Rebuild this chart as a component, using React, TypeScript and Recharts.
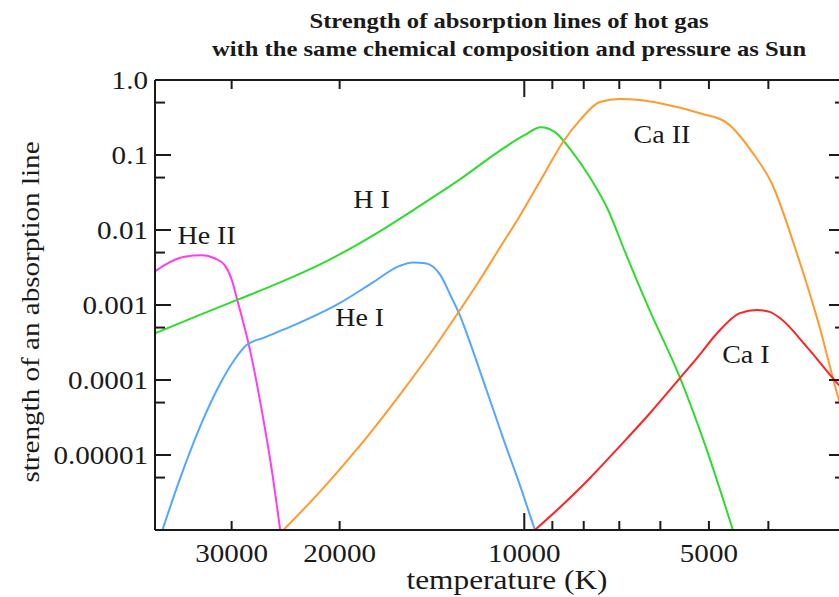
import React from "react";
import { LineChart, Line, XAxis, YAxis, ReferenceDot } from "recharts";

// temperature (K) and line strength, hottest first
const HE2_T = [40000, 38600, 35800, 33500, 32000, 30800, 30000, 29400, 28000, 26800, 25800, 25000];
const HE2_V = [0.0028, 0.0034, 0.0044, 0.0046, 0.0042, 0.0034, 0.0022, 0.0012, 0.00025, 0.00004, 0.0000063, 0.000001];

const H1_T = [40000, 33800, 29400, 25000, 20800, 17200, 14800, 12700, 11000, 9980, 9400, 8900, 8400, 7800, 7300, 6850, 6250, 5580, 5040, 4570];
const H1_V = [0.00042, 0.00074, 0.00117, 0.002, 0.004, 0.0096, 0.021, 0.048, 0.112, 0.185, 0.235, 0.2, 0.117, 0.049, 0.0185, 0.0051, 0.00086, 0.00011, 0.0000117, 0.000001];

const HE1_T = [38900, 36500, 33800, 31400, 29700, 28400, 26500, 24100, 20000, 17700, 16000, 15200, 14500, 13700, 13200, 12700, 12300, 11600, 10800, 10100, 9610];
const HE1_V = [0.000001, 0.0000046, 0.0000236, 0.000086, 0.000185, 0.00029, 0.00037, 0.00051, 0.00106, 0.00197, 0.0033, 0.0037, 0.0036, 0.0025, 0.00136, 0.00069, 0.00034, 0.000086, 0.0000158, 0.0000034, 0.000001];

const CA2_T = [24700, 21560, 18550, 15970, 13890, 12740, 11820, 10960, 10170, 9260, 8650, 8120, 7530, 6990, 6480, 6010, 5170, 4680, 4240, 3950, 3600, 3300, 3080, 3000];
const CA2_V = [0.000001, 0.0000032, 0.0000132, 0.000063, 0.0003, 0.00085, 0.00215, 0.0058, 0.0154, 0.0575, 0.149, 0.29, 0.51, 0.56, 0.54, 0.49, 0.36, 0.27, 0.106, 0.042, 0.0051, 0.00051, 0.00006, 0.00003];

const CA1_T = [9610, 8750, 7820, 7070, 6240, 5580, 5170, 4850, 4450, 4170, 3980, 3830, 3460, 3140, 3000];
const CA1_V = [0.000001, 0.000002, 0.0000049, 0.0000118, 0.000036, 0.000105, 0.00022, 0.00042, 0.00078, 0.00086, 0.00081, 0.00067, 0.000275, 0.000106, 0.000069];

const X_TICKS = [30000, 20000, 10000, 9000, 8000, 7000, 6000, 5000, 4000];
const X_LABELS = [30000, 20000, 10000, 5000];
const Y_MAJOR = [1, 0.1, 0.01, 0.001, 0.0001, 0.00001];
const Y_LABELS = ["1.0", "0.1", "0.01", "0.001", "0.0001", "0.00001"];
const Y_MINOR = [0.5, 0.05, 0.005, 0.0005, 0.00005, 0.000005];

const NAMES = ["He II", "H I", "He I", "Ca II", "Ca I"];
const NAME_T = [32960, 17740, 18550, 5965, 4353];
const NAME_V = [0.0083, 0.0251, 0.00067, 0.185, 0.000215];

const toRows = (ts: number[], vs: number[]) => ts.map((t, i) => ({ t, v: vs[i] }));

const SERIES = [
  { key: "he2", data: toRows(HE2_T, HE2_V), color: "#ff3cf0" },
  { key: "h1", data: toRows(H1_T, H1_V), color: "#2edc2e" },
  { key: "he1", data: toRows(HE1_T, HE1_V), color: "#52a8ff" },
  { key: "ca2", data: toRows(CA2_T, CA2_V), color: "#ff9a2e" },
  { key: "ca1", data: toRows(CA1_T, CA1_V), color: "#ff2424" },
];

const FONT = "'Liberation Serif', 'Times New Roman', serif";
const INK = "#1a1a1a";
const SX = 1.12;

function Txt({ x, y, size, anchor = "middle", bold = false, rotate = 0, children }: any) {
  return (
    <text
      transform={`translate(${x},${y}) rotate(${rotate}) scale(${SX},1)`}
      textAnchor={anchor}
      fontFamily={FONT}
      fontSize={size}
      fontWeight={bold ? "bold" : "normal"}
      fill={INK}
    >
      {children}
    </text>
  );
}

const same = (a: number, b: number) => Math.abs(a - b) <= Math.abs(b) * 1e-6;

function XTick({ x, y, payload, side }: any) {
  const v = payload.value;
  const len = v === 10000 ? 17 : 9;
  const dir = side === "top" ? 1 : -1;
  const labeled = side === "bottom" && X_LABELS.includes(v);
  return (
    <g>
      <line x1={x} x2={x} y1={y} y2={y + dir * len} stroke={INK} strokeWidth={2} />
      {labeled && <Txt x={x} y={y + 32} size={26}>{String(v)}</Txt>}
    </g>
  );
}

function YTick({ x, y, payload, side }: any) {
  const v = payload.value;
  const idx = Y_MAJOR.findIndex((m) => same(v, m));
  const len = idx >= 0 ? 16 : 10;
  const dir = side === "right" ? -1 : 1;
  return (
    <g>
      <line x1={x} x2={x + dir * len} y1={y} y2={y} stroke={INK} strokeWidth={2} />
      {side === "left" && idx >= 0 && (
        <Txt x={x - 7} y={y + 9} size={26} anchor="end">{Y_LABELS[idx]}</Txt>
      )}
    </g>
  );
}

function NameTag({ cx, cy, text }: any) {
  return <Txt x={cx} y={cy + 8} size={25}>{text}</Txt>;
}

export default function App() {
  const yTicks = [...Y_MAJOR, ...Y_MINOR];
  return (
    <div style={{ position: "fixed", left: 0, top: 0, width: 839, height: 597, overflow: "hidden", background: "#fff" }}>
      <LineChart width={850} height={597} margin={{ top: 79, right: 4, bottom: 7, left: 5 }}>
        <XAxis
          xAxisId="b"
          dataKey="t"
          type="number"
          scale="log"
          domain={[3000, 40000]}
          allowDataOverflow
          reversed
          ticks={X_TICKS}
          interval={0}
          height={60}
          tickSize={0}
          tickMargin={0}
          tickLine={false}
          axisLine={{ stroke: INK, strokeWidth: 2 }}
          tick={(p: any) => <XTick {...p} side="bottom" />}
        />
        <XAxis
          xAxisId="t"
          orientation="top"
          dataKey="t"
          type="number"
          scale="log"
          domain={[3000, 40000]}
          allowDataOverflow
          reversed
          ticks={X_TICKS}
          interval={0}
          height={1}
          tickSize={0}
          tickMargin={0}
          tickLine={false}
          axisLine={{ stroke: INK, strokeWidth: 2 }}
          tick={(p: any) => <XTick {...p} side="top" />}
        />
        <YAxis
          yAxisId="l"
          type="number"
          scale="log"
          domain={[0.000001, 1]}
          allowDataOverflow
          ticks={yTicks}
          interval={0}
          width={150}
          tickSize={0}
          tickMargin={0}
          tickLine={false}
          axisLine={{ stroke: INK, strokeWidth: 2 }}
          tick={(p: any) => <YTick {...p} side="left" />}
        />
        <YAxis
          yAxisId="r"
          orientation="right"
          type="number"
          scale="log"
          domain={[0.000001, 1]}
          allowDataOverflow
          ticks={yTicks}
          interval={0}
          width={1}
          tickSize={0}
          tickMargin={0}
          tickLine={false}
          axisLine={{ stroke: INK, strokeWidth: 2 }}
          tick={(p: any) => <YTick {...p} side="right" />}
        />
        {SERIES.map((s) => (
          <Line
            key={s.key}
            xAxisId="b"
            yAxisId="l"
            data={s.data}
            dataKey="v"
            type="monotone"
            stroke={s.color}
            strokeWidth={2}
            dot={false}
            isAnimationActive={false}
          />
        ))}
        {NAMES.map((n, i) => (
          <ReferenceDot
            key={n}
            xAxisId="b"
            yAxisId="l"
            x={NAME_T[i]}
            y={NAME_V[i]}
            r={0}
            ifOverflow="visible"
            shape={(p: any) => <NameTag {...p} text={n} />}
          />
        ))}
      </LineChart>
      <svg width={839} height={597} style={{ position: "absolute", left: 0, top: 0, pointerEvents: "none" }}>
        <Txt x={509} y={28} size={22} bold>Strength of absorption lines of hot gas</Txt>
        <Txt x={509} y={56} size={22} bold>with the same chemical composition and pressure as Sun</Txt>
        <Txt x={507} y={589} size={28}>temperature (K)</Txt>
        <Txt x={39} y={312} size={26} rotate={-90}>strength of an absorption line</Txt>
      </svg>
    </div>
  );
}
